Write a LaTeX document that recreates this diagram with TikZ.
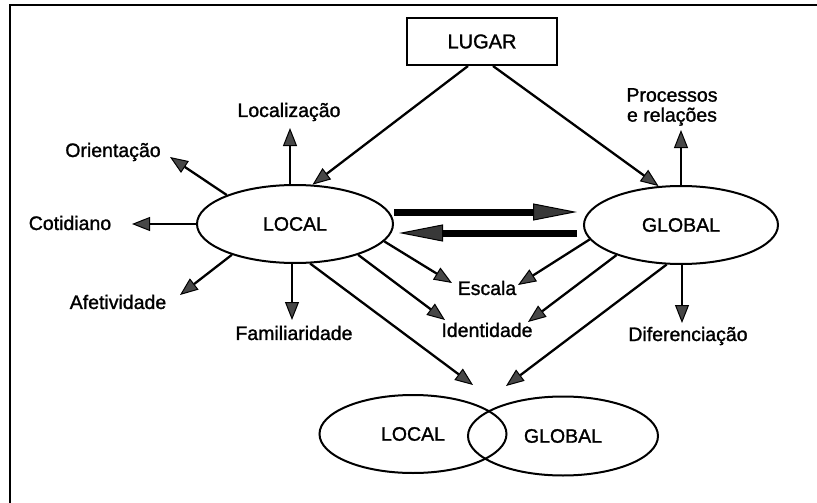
\documentclass[tikz,border=0pt]{standalone}
\usepackage{fontspec}
\setmainfont{Liberation Sans}[FakeBold=1.3]
\usetikzlibrary{shapes.geometric,arrows.meta}
\begin{document}
\begin{tikzpicture}[x=1pt,y=-1pt,
  every node/.style={font=\fontsize{19.5}{20}\selectfont},
  oval/.style={ellipse,draw,line width=2pt,inner sep=0pt},
  lbl/.style={inner sep=0pt,align=center},
  arr/.style={line width=2.3pt,-{Triangle[length=18pt,width=14pt,line width=1pt,fill=black!72]}},
  bigarr/.style={line width=7pt,-{Triangle[length=44pt,width=17pt,line width=1pt,fill=black!78]}},
]
\useasboundingbox (0,0) rectangle (817,503);
% partial frame: left and top edges only
\draw[line width=2.2pt] (10,503) -- (10,5) -- (817,5);

% main concepts
\node[draw,line width=2pt,minimum width=150pt,minimum height=47pt,inner sep=0pt,
      font=\fontsize{20}{22}\selectfont] (LUGAR) at (482,41.5) {LUGAR};
\node[oval,minimum width=196pt,minimum height=78pt] (LOCAL) at (295,224) {LOCAL};
\node[oval,minimum width=194pt,minimum height=78pt] (GLOBAL) at (681,225) {GLOBAL};
\node[oval,minimum width=187pt,minimum height=78pt] (LOCb) at (413,434) {LOCAL};
\node[oval,minimum width=190pt,minimum height=79pt] (GLOBb) at (563,436) {GLOBAL};

% labels
\node[lbl] (Loc) at (289,112) {Localização};
\node[lbl] (Ori) at (113,152) {Orientação};
\node[lbl] (Cot) at (70,223) {Cotidiano};
\node[lbl] (Afe) at (118,302) {Afetividade};
\node[lbl] (Fam) at (294,333) {Familiaridade};
\node[lbl] (Esc) at (487,288) {Escala};
\node[lbl] (Ide) at (487,330) {Identidade};
\node[lbl] (Pro) at (672,107) {Processos\\e relações};
\node[lbl] (Dif) at (688,336) {Diferenciação};

% arrow tips
\coordinate (tLoc) at (290,128);
\coordinate (tOri) at (170,157);
\coordinate (tCot) at (132,224);
\coordinate (tAfe) at (180,295);
\coordinate (tFam) at (292,320);
\coordinate (tEscL) at (452,283);
\coordinate (tIdeL) at (445,320);
\coordinate (tLocb) at (473,385);
\coordinate (tPro) at (681,130);
\coordinate (tEscR) at (518,285);
\coordinate (tIdeR) at (528,322);
\coordinate (tGlob) at (506,386);
\coordinate (tDif) at (682,323);

% LUGAR branches
\draw[arr] ([xshift=-14pt]LUGAR.south) -- (LOCAL.66);
\draw[arr] ([xshift=11pt]LUGAR.south) -- (GLOBAL.120);

% from LOCAL
\draw[arr] (LOCAL.north -| tLoc) -- (tLoc);
\draw[arr] (LOCAL.157.5) -- (tOri);
\draw[arr] (LOCAL.west) -- (tCot);
\draw[arr] (LOCAL.206.6) -- (tAfe);
\draw[arr] (LOCAL.south -| tFam) -- (tFam);
\draw[arr] (LOCAL.349) -- (tEscL);
\draw[arr] (LOCAL.334) -- (tIdeL);
\draw[arr] (LOCAL.291.5) -- (tLocb);

% from GLOBAL
\draw[arr] (GLOBAL.north -| tPro) -- (tPro);
\draw[arr] (GLOBAL.189.4) -- (tEscR);
\draw[arr] (GLOBAL.205) -- (tIdeR);
\draw[arr] (GLOBAL.250.3) -- (tGlob);
\draw[arr] (GLOBAL.south -| tDif) -- (tDif);

% exchange between LOCAL and GLOBAL
\draw[bigarr] ([yshift=12pt]LOCAL.east) -- ([xshift=-6pt,yshift=13pt]GLOBAL.west);
\draw[bigarr] ([xshift=-6pt,yshift=-8pt]GLOBAL.west) -- ([xshift=5pt,yshift=-9pt]LOCAL.east);
\end{tikzpicture}
\end{document}
